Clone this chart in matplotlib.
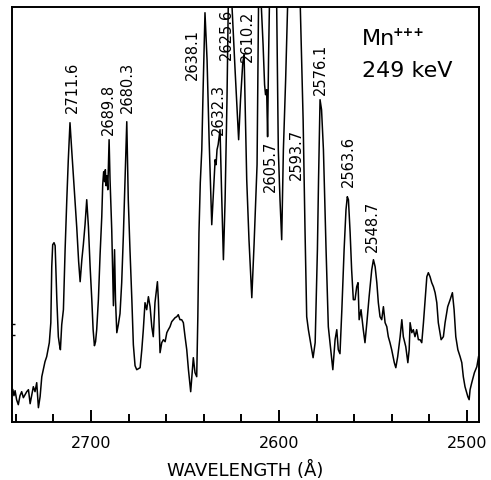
import matplotlib
matplotlib.use("Agg")
from matplotlib import pyplot as plt
from matplotlib.ticker import MultipleLocator

# spectrum trace (wavelength in angstrom, intensity arbitrary units)
wavelength = [
    2741.6, 2741.0, 2740.4, 2739.6, 2738.7, 2737.8, 2736.9, 2736.0, 2735.1, 2734.2,
    2733.3, 2732.4, 2731.5, 2730.7, 2729.8, 2728.9, 2728.5, 2728.0, 2727.1, 2726.2,
    2725.4, 2724.5, 2723.6, 2722.9, 2722.2, 2721.4, 2720.9, 2720.4, 2719.7, 2719.1,
    2718.2, 2717.4, 2716.8, 2716.3, 2715.6, 2714.7, 2713.8, 2712.9, 2712.1, 2711.2,
    2710.3, 2709.0, 2707.6, 2706.6, 2705.8, 2704.9, 2704.1, 2703.2, 2702.3, 2701.4,
    2700.5, 2699.6, 2698.9, 2698.2, 2697.6, 2697.0, 2696.1, 2695.2, 2694.3, 2693.8,
    2693.3, 2692.8, 2692.4, 2692.0, 2691.5, 2691.1, 2690.4, 2689.9, 2689.0, 2688.1,
    2687.5, 2687.0, 2686.3, 2685.5, 2684.6, 2683.7, 2682.8, 2681.9, 2681.0, 2680.2,
    2679.3, 2678.3, 2677.5, 2676.6, 2675.7, 2674.8, 2673.9, 2673.0, 2672.2, 2671.3,
    2670.4, 2669.5, 2668.6, 2667.7, 2666.9, 2666.0, 2664.7, 2664.2, 2663.3, 2662.4,
    2661.5, 2660.6, 2659.7, 2658.9, 2658.0, 2657.1, 2656.2, 2655.3, 2654.4, 2653.6,
    2652.7, 2651.8, 2650.9, 2650.0, 2649.1, 2648.2, 2647.0, 2646.3, 2645.6, 2644.7,
    2643.8, 2643.2, 2642.6, 2641.9, 2641.1, 2640.4, 2639.4, 2638.3, 2637.2, 2636.4,
    2635.8, 2635.1, 2634.4, 2634.0, 2633.5, 2633.0, 2632.4, 2631.4, 2630.6, 2629.6,
    2628.7, 2627.7, 2626.9, 2626.1, 2625.2, 2623.4, 2621.5, 2620.5, 2619.3, 2618.6,
    2617.2, 2616.0, 2614.5, 2613.3, 2611.7, 2610.9, 2610.4, 2609.6, 2608.5, 2607.7,
    2607.2, 2606.6, 2606.1, 2605.6, 2605.1, 2603.5, 2601.3, 2600.4, 2599.5, 2598.6,
    2597.7, 2596.5, 2595.4, 2592.6, 2588.8, 2587.2, 2586.2, 2585.3, 2584.4, 2583.5,
    2582.6, 2581.9, 2580.8, 2579.6, 2579.0, 2578.2, 2577.4, 2576.4, 2575.0, 2573.8,
    2572.5, 2571.4, 2570.2, 2569.3, 2568.5, 2567.6, 2566.6, 2565.4, 2564.4, 2563.7,
    2563.1, 2562.2, 2561.4, 2560.5, 2559.6, 2558.7, 2558.0, 2557.4, 2556.4, 2555.2,
    2554.3, 2553.3, 2552.1, 2550.7, 2549.8, 2548.9, 2548.0, 2547.2, 2546.3, 2545.4,
    2544.5, 2543.6, 2542.7, 2541.9, 2541.0, 2540.1, 2538.7, 2537.9, 2536.9, 2535.6,
    2534.7, 2533.9, 2532.6, 2531.5, 2530.8, 2530.3, 2529.4, 2528.6, 2527.7, 2526.8,
    2525.9, 2525.0, 2524.1, 2523.2, 2522.3, 2521.4, 2520.6, 2519.7, 2518.8, 2517.9,
    2517.0, 2516.1, 2515.3, 2513.8, 2512.6, 2511.7, 2510.3, 2509.0, 2507.8, 2506.9,
    2506.0, 2504.9, 2503.7, 2502.8, 2502.0, 2501.1, 2499.6, 2498.9, 2498.4, 2497.5,
    2496.1, 2494.8, 2493.9,
]
intensity = [
    32, 26, 31, 22, 17, 26, 30, 24, 27, 30,
    32, 18, 27, 35, 30, 39, 28, 14, 25, 45,
    52, 60, 65, 72, 79, 99, 155, 177, 179, 176,
    122, 85, 77, 72, 97, 112, 172, 222, 262, 299,
    272, 235, 194, 160, 140, 162, 177, 197, 222, 195,
    155, 122, 92, 76, 80, 92, 122, 167, 205, 237,
    250, 240, 252, 236, 246, 232, 282, 242, 192, 116,
    172, 122, 89, 97, 108, 139, 187, 242, 300, 222,
    172, 122, 77, 56, 52, 53, 54, 72, 92, 119,
    112, 125, 115, 95, 85, 119, 140, 122, 69, 79,
    82, 80, 89, 92, 95, 100, 102, 104, 105, 107,
    102, 102, 99, 85, 72, 52, 30, 47, 64, 49,
    45, 105, 189, 239, 272, 332, 409, 362, 282, 232,
    197, 222, 247, 262, 257, 272, 277, 292, 232, 162,
    222, 322, 432, 467, 422, 352, 282, 322, 359, 367,
    242, 182, 124, 177, 257, 422, 467, 422, 377, 337,
    327, 332, 285, 362, 422, 467, 422, 272, 222, 182,
    272, 342, 422, 467, 422, 302, 192, 105, 92, 82,
    72, 64, 79, 172, 242, 322, 312, 272, 172, 95,
    72, 52, 82, 92, 72, 68, 112, 172, 212, 225,
    222, 189, 152, 122, 122, 135, 139, 102, 112, 92,
    79, 99, 125, 152, 162, 155, 139, 119, 105, 102,
    115, 99, 95, 85, 79, 72, 59, 54, 65, 85,
    102, 85, 75, 59, 72, 99, 89, 92, 85, 92,
    82, 82, 79, 99, 122, 145, 149, 145, 139, 135,
    129, 119, 99, 82, 85, 99, 115, 122, 129, 112,
    85, 72, 65, 59, 45, 35, 25, 22, 32, 39,
    49, 55, 65,
]

peak_labels = ["2711.6", "2689.8", "2680.3", "2638.1", "2632.3", "2625.6",
               "2610.2", "2605.7", "2593.7", "2576.1", "2563.6", "2548.7"]

# label anchor points (x, y, vertical alignment)
label_pos = [(2710.1, 309, "bottom"), (2690.8, 287, "bottom"), (2680.8, 309, "bottom"),
             (2646.0, 342, "bottom"), (2632.4, 287, "bottom"), (2628.2, 362, "bottom"),
             (2617.0, 360, "bottom"), (2604.8, 281, "top"), (2591.0, 242, "bottom"),
             (2578.2, 327, "bottom"), (2563.3, 235, "bottom"), (2550.5, 170, "bottom")]

fig = plt.figure(figsize=(4.91, 4.80), dpi=100)
ax = fig.add_axes([0.025, 0.1215, 0.95, 0.8645])

ax.plot(wavelength, intensity, color="black", lw=1.1)

for txt, (x, y, va) in zip(peak_labels, label_pos):
    ax.text(x, y, txt, rotation=90, ha="center", va=va, fontsize=10.5,
            color="black")

ax.text(2555.8, 377, "Mn", fontsize=16, va="baseline", ha="left")
ax.text(2539.4, 389, "+++", fontsize=9, va="center", ha="left", fontweight="bold")
ax.text(2555.8, 345, "249 keV", fontsize=16, va="baseline", ha="left")

ax.set_xlim(2741.9, 2493.8)
ax.set_ylim(0, 415)

ax.xaxis.set_major_locator(MultipleLocator(100))
ax.xaxis.set_minor_locator(MultipleLocator(20))
ax.tick_params(axis="x", which="major", direction="in", length=8.5, width=1.4,
               labelsize=11.5, pad=10.5)
ax.tick_params(axis="x", which="minor", direction="in", length=6, width=1.4)
ax.set_yticks([87, 98])
ax.set_yticklabels([])
ax.tick_params(axis="y", direction="in", length=2.5, width=1)
ax.tick_params(top=False, right=False)

for s in ax.spines.values():
    s.set_linewidth(1.4)

ax.set_xlabel("WAVELENGTH (Å)", fontsize=13, labelpad=7)

fig.savefig("out.png", dpi=100)
